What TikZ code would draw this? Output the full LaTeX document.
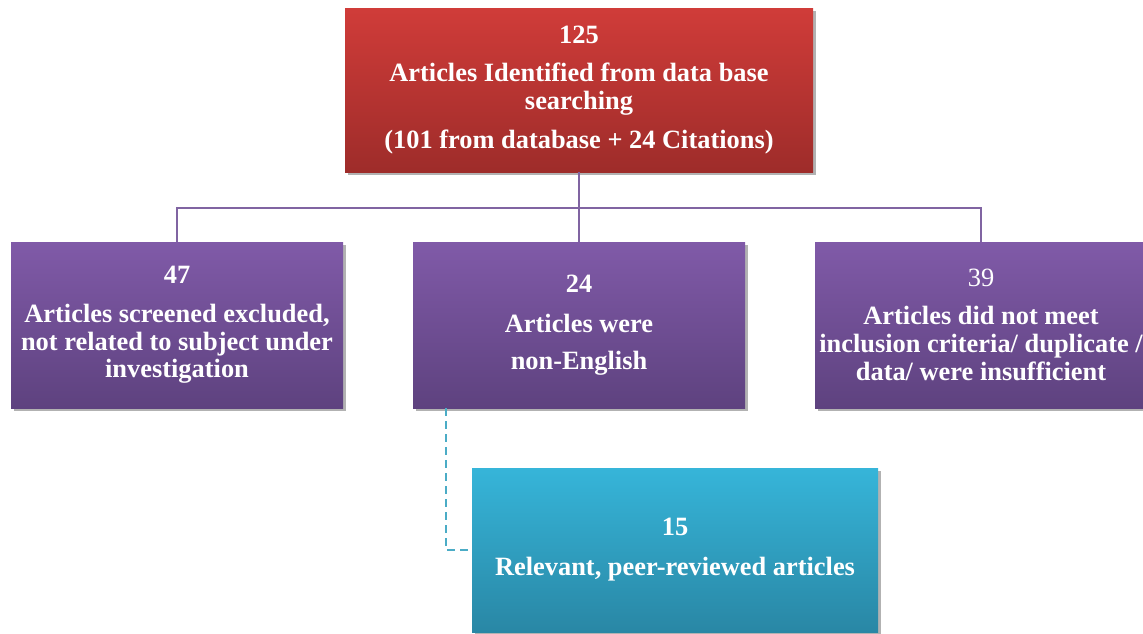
\documentclass[tikz,border=0pt]{standalone}
\usepackage{fontspec}
\setmainfont{Liberation Serif}
\usetikzlibrary{shadows}
\definecolor{redT}{RGB}{208,60,57}
\definecolor{redB}{RGB}{158,44,42}
\definecolor{purT}{RGB}{128,90,168}
\definecolor{purB}{RGB}{94,66,127}
\definecolor{cyaT}{RGB}{54,181,217}
\definecolor{cyaB}{RGB}{41,135,165}
\definecolor{lineP}{RGB}{128,100,162}
\definecolor{lineC}{RGB}{75,172,198}
\begin{document}
\begin{tikzpicture}[x=0.5pt,y=-0.5pt,
  box/.style={rectangle, inner sep=0pt, align=center, text=white,
    font=\bfseries\fontsize{13.2}{13.8}\selectfont,
    drop shadow={shadow xshift=1.5pt, shadow yshift=-1.5pt, opacity=0.3, fill=black}},
  redbox/.style={box, top color=redT, bottom color=redB, minimum width=234pt, minimum height=82pt},
  purbox/.style={box, top color=purT, bottom color=purB, minimum width=166pt, minimum height=83pt},
  cyabox/.style={box, top color=cyaT, bottom color=cyaB, minimum width=203pt, minimum height=82pt},
  conn/.style={draw=lineP, line width=1pt},
  dconn/.style={draw=lineC, line width=1.1pt, dash pattern=on 4pt off 2.5pt}
]
\useasboundingbox (0,0) rectangle (1143,633);
\node[redbox] (top) at (579,90) {125\\[5.2pt]Articles Identified from data base\\searching\\[5.6pt](101 from database + 24 Citations)};
\node[purbox] (left) at (177,325) {47\\[5.6pt]Articles screened excluded,\\not related to subject under\\investigation};
\node[purbox] (mid) at (579,325) {24\\[6pt]Articles were\\[4.8pt]non-English};
\node[purbox] (right) at (981,325) {{\mdseries 39}\\[5.2pt]Articles did not meet\\inclusion criteria/ duplicate /\\data/ were insufficient};
\node[cyabox] (bot) at (675,550) {15\\[6.2pt]Relevant, peer-reviewed articles};
\coordinate (bus) at (579,208);
\draw[conn] (top.south) -- (mid.north);
\draw[conn] (left.north) |- (bus) -| (right.north);
\draw[dconn] ([xshift=16.5pt]mid.south west) |- (bot.west);
\end{tikzpicture}
\end{document}
